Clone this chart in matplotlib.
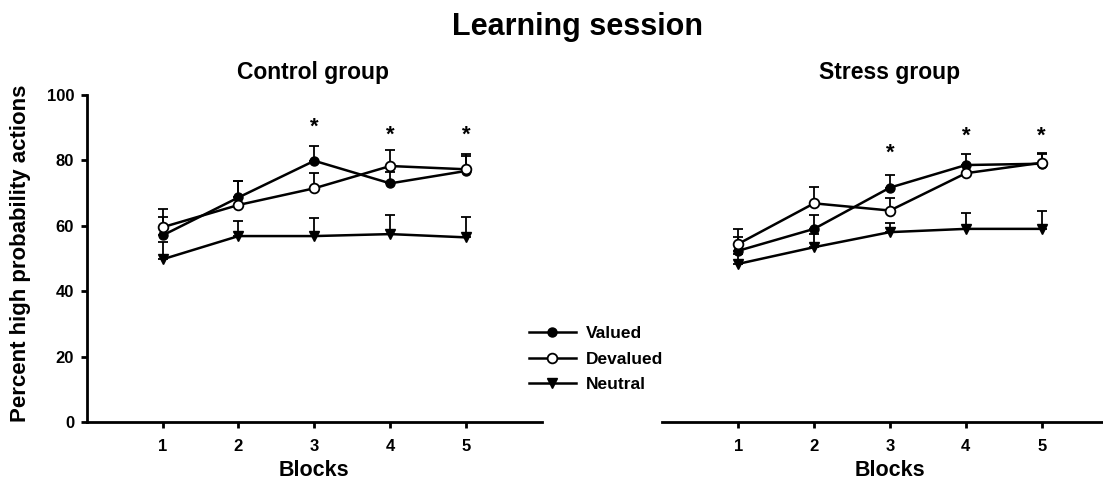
import matplotlib
matplotlib.use("Agg")
import matplotlib.pyplot as plt
import numpy as np

plt.rcParams['font.family'] = ['Liberation Sans', 'DejaVu Sans']
plt.rcParams['font.weight'] = 'bold'

blocks = [1, 2, 3, 4, 5]

# Control group
ctrl_valued = [57.1, 68.7, 79.9, 73.0, 76.8]
ctrl_valued_err = [5.5, 5.0, 4.5, 3.5, 4.5]
ctrl_devalued = [59.6, 66.4, 71.5, 78.3, 77.3]
ctrl_devalued_err = [5.5, 7.2, 4.8, 4.9, 4.7]
ctrl_neutral = [49.8, 56.9, 56.9, 57.5, 56.5]
ctrl_neutral_err = [5.2, 4.7, 5.4, 5.8, 6.1]
ctrl_star_blocks = [3, 4, 5]
ctrl_star_y = [90.3, 87.6, 87.6]

# Stress group
str_valued = [52.4, 59.1, 71.7, 78.6, 79.0]
str_valued_err = [4.1, 4.2, 3.9, 3.3, 3.0]
str_devalued = [54.5, 66.9, 64.7, 76.1, 79.3]
str_devalued_err = [4.7, 4.9, 3.7, 2.5, 3.1]
str_neutral = [48.4, 53.5, 58.1, 59.1, 59.1]
str_neutral_err = [3.0, 4.0, 2.7, 4.9, 5.6]
str_star_blocks = [3, 4, 5]
str_star_y = [82.2, 87.5, 87.5]

yticks = [0, 20, 40, 60, 80, 100]

W, H = 1103, 484
fig = plt.figure(figsize=(W / 100, H / 100), dpi=100)

ax_b = (H - 422.3) / H
ax_h = (422.3 - 95) / H
ax_w = 455.3 / W
axL = fig.add_axes([86.7 / W, ax_b, ax_w, ax_h])
axR = fig.add_axes([662.3 / W, ax_b, ax_w, ax_h])

series_style = [
    dict(marker='o', mfc='black', mec='black', ms=6.5, label='Valued'),
    dict(marker='o', mfc='white', mec='black', ms=7, mew=1.3, label='Devalued'),
    dict(marker='v', mfc='black', mec='black', ms=7.5, label='Neutral'),
]

def draw(ax, vals, errs, stars_x, stars_y, show_y):
    handles = []
    for v, e, st in zip(vals, errs, series_style):
        ax.errorbar(blocks, v, yerr=[np.zeros(len(e)), e], fmt='none',
                    ecolor='black', elinewidth=1.3, capsize=3.5, capthick=1.3, zorder=2)
    for v, st in zip(vals, series_style):
        h, = ax.plot(blocks, v, color='black', lw=1.8, zorder=3, **st)
        handles.append(h)
    for sx, sy in zip(stars_x, stars_y):
        ax.text(sx, sy, '*', ha='center', va='center', fontsize=16, fontweight='bold')
    ax.set_xlim(0, 6)
    ax.set_ylim(0, 100)
    ax.set_xticks(blocks)
    ax.set_xticklabels([str(b) for b in blocks])
    ax.spines['top'].set_visible(False)
    ax.spines['right'].set_visible(False)
    ax.spines['bottom'].set_linewidth(2.0)
    ax.spines['left'].set_linewidth(2.0)
    ax.tick_params(axis='x', direction='out', length=4, width=2, pad=8, labelsize=12)
    if show_y:
        ax.set_yticks(yticks)
        ax.set_yticklabels([str(t) for t in yticks])
        ax.tick_params(axis='y', direction='out', length=4, width=2, pad=5, labelsize=12)
    else:
        ax.spines['left'].set_visible(False)
        ax.set_yticks([])
    ax.set_xlabel('Blocks', fontsize=15.5, fontweight='bold', labelpad=4)
    return handles

handles = draw(axL, [ctrl_valued, ctrl_devalued, ctrl_neutral],
               [ctrl_valued_err, ctrl_devalued_err, ctrl_neutral_err],
               ctrl_star_blocks, ctrl_star_y, True)
draw(axR, [str_valued, str_devalued, str_neutral],
     [str_valued_err, str_devalued_err, str_neutral_err],
     str_star_blocks, str_star_y, False)

axL.set_ylabel('Percent high probability actions', fontsize=16, fontweight='bold')
axL.yaxis.set_label_coords((31 - 86.7) / 455.3, (422.3 - 253) / 327.3)

fig.text(578 / W, 1 - 27 / H, 'Learning session', ha='center', va='center',
         fontsize=22, fontweight='bold')
fig.text(313 / W, 1 - 72 / H, 'Control group', ha='center', va='center',
         fontsize=16.5, fontweight='bold')
fig.text(890 / W, 1 - 72 / H, 'Stress group', ha='center', va='center',
         fontsize=16.5, fontweight='bold')

fig.legend(handles=handles, loc='center left', bbox_to_anchor=(529 / W, 1 - 359 / H),
           frameon=False, fontsize=12.5, handlelength=2.7, handletextpad=0.55,
           labelspacing=0.58, borderpad=0, borderaxespad=0)

fig.savefig('out.png', dpi=100)
